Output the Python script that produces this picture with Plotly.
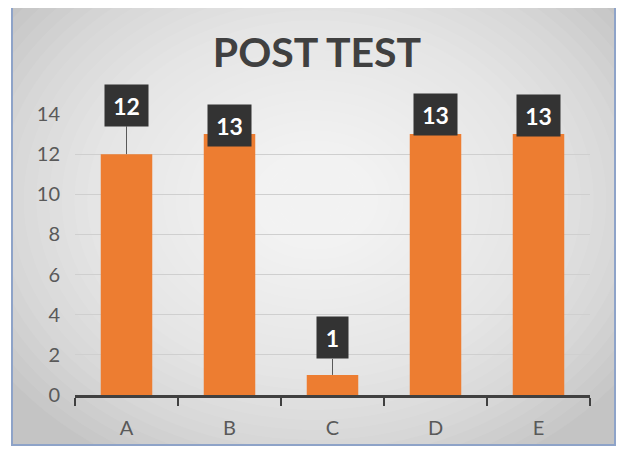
import plotly.graph_objects as go

categories = ["A", "B", "C", "D", "E"]
scores = [12, 13, 1, 13, 13]
y_ticks = [0, 2, 4, 6, 8, 10, 12, 14]

# label box offsets above the bar tops (pixels), styling only
label_lift = [-49, -9, -37, -20, -19]

# page body adds an 8px margin, so the figure is shrunk and shifted by that
OFF = 8
W, H = 624 - OFF, 456 - OFF
plot_left, plot_right, plot_top, plot_bottom = 75, 590, 114, 395  # in screen px
L, R = plot_left - OFF, W - (plot_right - OFF)
T, B = plot_top - OFF, H - (plot_bottom - OFF)
pw, ph = W - L - R, H - T - B


def px(x):
    return (x - OFF - L) / pw


def py(y):
    return (plot_bottom - y) / ph


fig = go.Figure()

fig.add_trace(go.Bar(
    x=categories, y=scores,
    marker=dict(color="#ED7D31", line=dict(width=0)),
    width=0.5,
))

shapes = []
# framed background with a soft radial light
shapes.append(dict(type="rect", xref="paper", yref="paper", layer="below",
                   x0=px(12), x1=px(615), y0=py(445), y1=py(4),
                   fillcolor="#c4c4c4", line=dict(width=0)))
n = 30
cx, cy = 315, 200
for i in range(n):
    f = 1 - i / n
    rx, ry = 380 * f, 300 * f
    shapes.append(dict(type="circle", xref="paper", yref="paper", layer="below",
                       x0=px(cx - rx), x1=px(cx + rx), y0=py(cy + ry), y1=py(cy - ry),
                       fillcolor="white", opacity=0.07, line=dict(width=0)))
# frame line on top of the glow
shapes.append(dict(type="rect", xref="paper", yref="paper", layer="below",
                   x0=px(12), x1=px(615), y0=py(445), y1=py(4),
                   fillcolor="rgba(0,0,0,0)", line=dict(color="#8ea3c8", width=2)))

annotations = []
for c, v, lift in zip(categories, scores, label_lift):
    annotations.append(dict(
        x=c, y=v, xref="x", yref="y",
        text="<b>%d</b>" % v,
        font=dict(family="Lato", size=23, color="white"),
        bgcolor="#333333", borderpad=2,
        width=39 if v >= 10 else 27, height=37, valign="middle",
        showarrow=True, arrowhead=0, arrowwidth=1, arrowcolor="#595959",
        ax=0, ay=lift, standoff=0,
    ))

fig.update_layout(
    width=W, height=H,
    margin=dict(l=L, r=R, t=T, b=B),
    paper_bgcolor="white", plot_bgcolor="rgba(0,0,0,0)",
    showlegend=False,
    shapes=shapes,
    annotations=annotations,
    title=dict(text="<b>POST TEST</b>", x=(317 - OFF) / W, xref="container", xanchor="center",
               y=1 - (53 - OFF) / H, yref="container", yanchor="middle",
               font=dict(family="Lato", size=41, color="#404040")),
    font=dict(family="Lato"),
)

fig.update_yaxes(
    range=[0, 14], tickvals=y_ticks,
    showgrid=True, gridcolor="#cfcfcf", gridwidth=1,
    zeroline=False, showline=False,
    ticks="", ticklabelstandoff=14,
    tickfont=dict(family="Lato", size=20, color="#595959"),
)
fig.update_xaxes(
    showline=True, linecolor="#404040", linewidth=2.5,
    ticks="outside", tickson="boundaries", ticklen=8, tickwidth=2, tickcolor="#404040",
    ticklabelstandoff=13,
    tickfont=dict(family="Lato", size=20, color="#595959"),
)

fig.write_html("out.html")
